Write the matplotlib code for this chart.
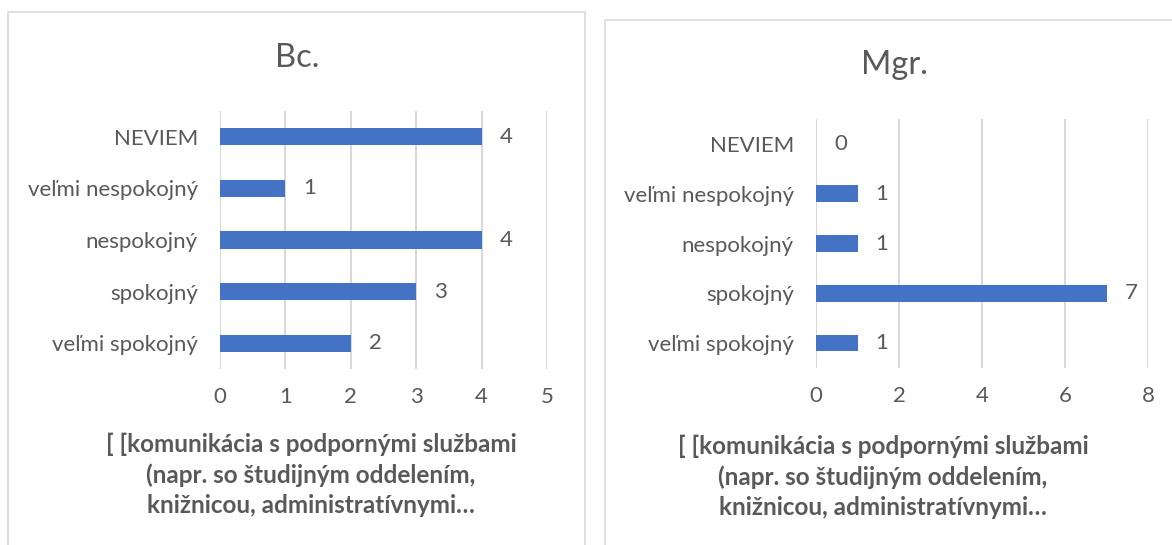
import matplotlib.pyplot as plt
from matplotlib.patches import Rectangle

plt.rcParams['font.family'] = ['Lato', 'DejaVu Sans']

# categories, bottom to top
categories = ['veľmi spokojný', 'spokojný', 'nespokojný', 'veľmi nespokojný', 'NEVIEM']
bc_values = [2, 3, 4, 1, 4]
mgr_values = [1, 7, 1, 1, 0]
bc_ticks = [0, 1, 2, 3, 4, 5]
mgr_ticks = [0, 2, 4, 6, 8]
xlabel_text = '[ [komunikácia s podpornými službami\n(napr. so študijným oddelením,\nknižnicou, administratívnymi…'

gray = '#595959'
blue = '#4472C4'
grid_c = '#D9D9D9'

fig = plt.figure(figsize=(11.72, 5.45), dpi=100)

# panel frames
fig.patches.append(Rectangle((8/1172, -0.05), 577/1172, 1.05 - 12/545, transform=fig.transFigure,
                             fill=False, edgecolor='#D9D9D9', linewidth=1.2))
fig.patches.append(Rectangle((605/1172, -0.05), 0.6, 1.05 - 20/545, transform=fig.transFigure,
                             fill=False, edgecolor='#D9D9D9', linewidth=1.2))


def draw(ax, values, ticks, title, title_xy, xlabel_xy):
    y = range(len(categories))
    ax.barh(y, values, height=0.33, color=blue, zorder=3)
    ax.set_xlim(ticks[0], ticks[-1])
    ax.set_ylim(-0.5, len(categories) - 0.5)
    ax.set_xticks(ticks)
    ax.set_yticks(list(y))
    ax.set_yticklabels(categories)
    ax.tick_params(axis='both', length=0, labelsize=16, labelcolor=gray)
    ax.tick_params(axis='y', pad=16)
    ax.tick_params(axis='x', pad=13)
    ax.grid(axis='x', color=grid_c, linewidth=1.5, zorder=0)
    for s in ax.spines.values():
        s.set_visible(False)
    for yi, v in zip(y, values):
        ax.annotate(str(v), (v, yi), xytext=(13, 0), textcoords='offset points',
                    ha='left', va='center', fontsize=16, color=gray)
    fig.text(title_xy[0] / 1172, 1 - title_xy[1] / 545, title, ha='center', va='center',
             fontsize=23.5, color=gray)
    fig.text(xlabel_xy[0] / 1172, 1 - xlabel_xy[1] / 545, xlabel_text, ha='center', va='center',
             fontsize=17.5, fontweight='bold', color=gray, linespacing=1.37)


ax1 = fig.add_axes([220/1172, 1 - 369/545, 327/1172, 258/545])
draw(ax1, bc_values, bc_ticks, 'Bc.', (297, 58), (311, 475))

ax2 = fig.add_axes([816/1172, 1 - 368/545, 332/1172, 249/545])
draw(ax2, mgr_values, mgr_ticks, 'Mgr.', (894, 65), (883, 477))

fig.savefig('out.png', dpi=100)
